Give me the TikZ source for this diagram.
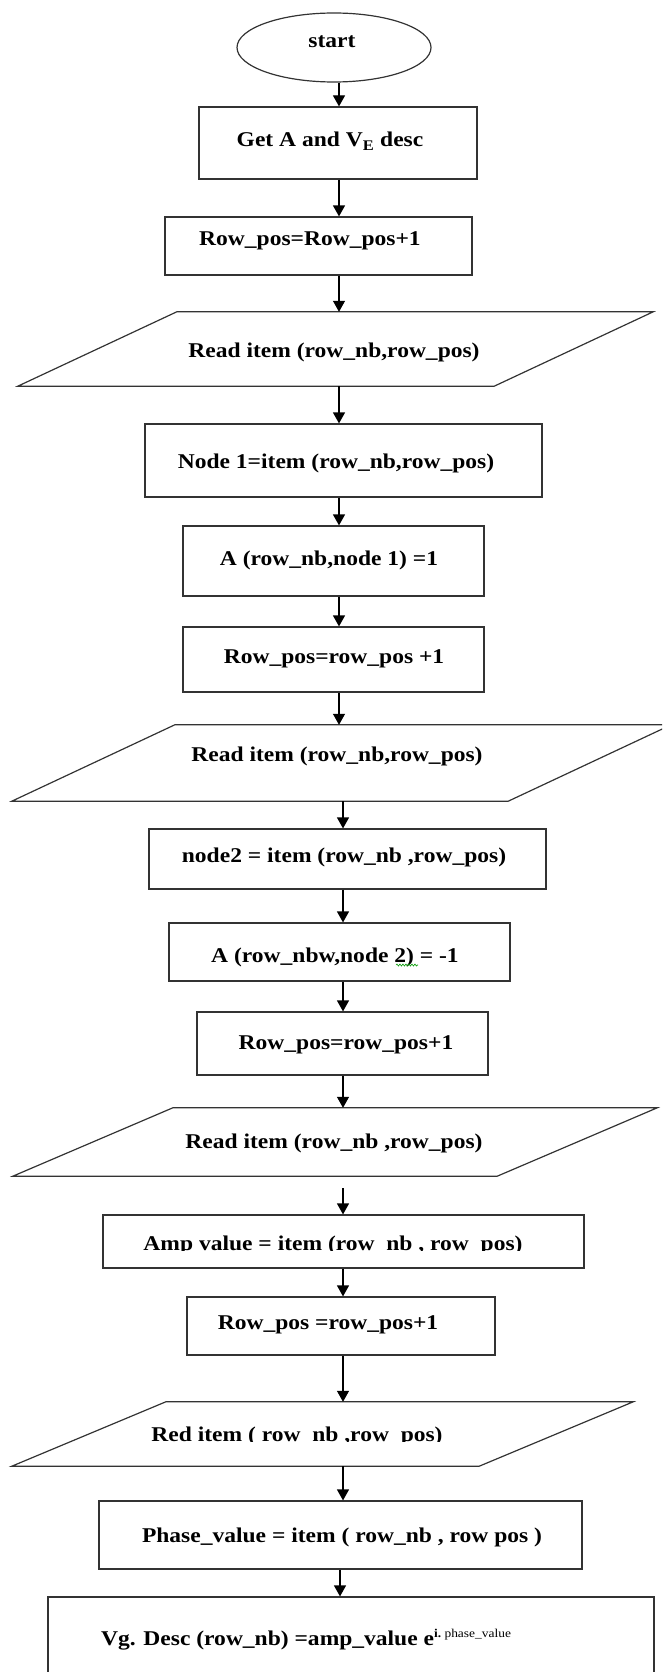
\documentclass[tikz,border=0pt]{standalone}
\usepackage{fontspec}
\setmainfont{Liberation Serif}[FakeStretch=1.12]
\usetikzlibrary{arrows.meta,shapes.geometric,decorations.pathmorphing}

\begin{document}
\begin{tikzpicture}[x=1pt,y=-1pt,
  frame/.style={draw=black!80, line width=1.2pt},
  procbox/.style={frame, rectangle, inner sep=0pt},
  iobox/.style={rectangle, inner sep=0pt, draw=none},
  lbl/.style={anchor=base, inner sep=0pt, font=\fontsize{21}{25}\selectfont\bfseries},
  flow/.style={draw=black, line width=1.2pt, -{Triangle[width=12pt,length=11pt]}},
]
\useasboundingbox (0,0) rectangle (662,1672);
\clip (0,0) rectangle (662,1672);

% x positions of the vertical connectors
\coordinate (sA) at (339,0);
\coordinate (sB) at (343,0);
\coordinate (sC) at (340,0);

% terminal
\node[ellipse, frame, minimum width=194pt, minimum height=69pt, inner sep=0pt] (start) at (334,47.5) {};

% process boxes
\node[procbox, minimum width=278pt, minimum height=72pt] (b1) at (338,143) {};
\node[procbox, minimum width=307pt, minimum height=58pt] (b2) at (318.5,246) {};
\node[procbox, minimum width=397pt, minimum height=73pt] (b3) at (343.5,460.5) {};
\node[procbox, minimum width=301pt, minimum height=70pt] (b4) at (333.5,561) {};
\node[procbox, minimum width=301pt, minimum height=65pt] (b5) at (333.5,659.5) {};
\node[procbox, minimum width=397pt, minimum height=60pt] (b6) at (347.5,859) {};
\node[procbox, minimum width=341pt, minimum height=58pt] (b7) at (339.5,952) {};
\node[procbox, minimum width=291pt, minimum height=63pt] (b8) at (342.5,1043.5) {};
\node[procbox, minimum width=481pt, minimum height=53pt] (b9) at (343.5,1241.5) {};
\node[procbox, minimum width=308pt, minimum height=58pt] (b10) at (341,1326) {};
\node[procbox, minimum width=483pt, minimum height=68pt] (b11) at (340.5,1535) {};
\node[procbox, minimum width=606pt, minimum height=103pt] (b12) at (351,1648.5) {};

% input/output parallelograms
\node[iobox, minimum width=635pt, minimum height=74pt] (p1) at (335.5,349) {};
\node[iobox, minimum width=659pt, minimum height=76pt] (p2) at (341.5,763) {};
\node[iobox, minimum width=644pt, minimum height=68pt] (p3) at (335,1142) {};
\node[iobox, minimum width=621pt, minimum height=64pt] (p4) at (322.5,1434) {};
\draw[frame] (p1.south west) -- ([xshift=-159pt]p1.south east) -- (p1.north east) -- ([xshift=159pt]p1.north west) -- cycle;
\draw[frame] (p2.south west) -- ([xshift=-163pt]p2.south east) -- (p2.north east) -- ([xshift=163pt]p2.north west) -- cycle;
\draw[frame] (p3.south west) -- ([xshift=-160pt]p3.south east) -- (p3.north east) -- ([xshift=160pt]p3.north west) -- cycle;
\draw[frame] (p4.south west) -- ([xshift=-154pt]p4.south east) -- (p4.north east) -- ([xshift=154pt]p4.north west) -- cycle;

% labels
\node[lbl] (t0) at (332,48) {start};
\node[lbl] (t1) at (330,147) {Get A and V\textsubscript{E} desc};
\node[lbl] (t2) at (310,245) {Row\_pos=Row\_pos+1};
\node[lbl] (t3) at (334,357) {Read item (row\_nb,row\_pos)};
\node[lbl] (t4) at (336,468) {Node 1=item (row\_nb,row\_pos)};
\node[lbl] (t5) at (329,565) {A (row\_nb,node 1) =1};
\node[lbl] (t6) at (334,663) {Row\_pos=row\_pos +1};
\node[lbl] (t7) at (337,761) {Read item (row\_nb,row\_pos)};
\node[lbl] (t8) at (344,862) {node2 = item (row\_nb ,row\_pos)};
\node[lbl] (t9) at (335,962) {A (row\_nbw,node 2) = -1};
\draw[green!60!black, line width=0.6pt, decorate,
      decoration={snake, amplitude=1pt, segment length=3pt}] (396,965) -- (418,965);
\node[lbl] (t10) at (346,1049) {Row\_pos=row\_pos+1};
\node[lbl] (t11) at (334,1148) {Read item (row\_nb ,row\_pos)};
\begin{scope}
  \clip (0,1200) rectangle (662,1250.3);
  \node[lbl] (t12) at (333,1250) {Amp value = item (row\_nb , row\_pos)};
\end{scope}
\node[lbl] (t13) at (328,1329) {Row\_pos =row\_pos+1};
\begin{scope}
  \clip (0,1400) rectangle (662,1441.3);
  \node[lbl] (t14) at (297,1441) {Red item ( row\_nb ,row\_pos)};
\end{scope}
\node[lbl] (t15) at (342,1542) {Phase\_value = item ( row\_nb , row pos )};
\node[lbl] (t16) at (306,1645) {Vg. Desc (row\_nb) =amp\_value e\raisebox{8pt}{\fontsize{12}{12}\selectfont i.\ \mdseries phase\_value}};

% connectors
\draw[flow] (start.south -| sA) -- (b1.north -| sA);
\draw[flow] (b1.south -| sA) -- (b2.north -| sA);
\draw[flow] (b2.south -| sA) -- (p1.north -| sA);
\draw[flow] (p1.south -| sA) -- (b3.north -| sA);
\draw[flow] (b3.south -| sA) -- (b4.north -| sA);
\draw[flow] (b4.south -| sA) -- (b5.north -| sA);
\draw[flow] (b5.south -| sA) -- (p2.north -| sA);
\draw[flow] (p2.south -| sB) -- (b6.north -| sB);
\draw[flow] (b6.south -| sB) -- (b7.north -| sB);
\draw[flow] (b7.south -| sB) -- (b8.north -| sB);
\draw[flow] (b8.south -| sB) -- (p3.north -| sB);
\draw[flow, shorten <=12pt] (p3.south -| sB) -- (b9.north -| sB);
\draw[flow] (b9.south -| sB) -- (b10.north -| sB);
\draw[flow] (b10.south -| sB) -- (p4.north -| sB);
\draw[flow] (p4.south -| sB) -- (b11.north -| sB);
\draw[flow] (b11.south -| sC) -- (b12.north -| sC);
\end{tikzpicture}
\end{document}
